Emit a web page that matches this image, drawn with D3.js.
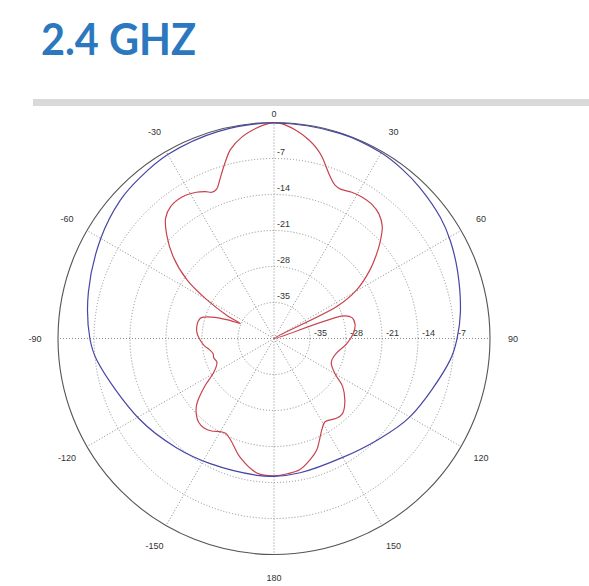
<!DOCTYPE html>
<html>
<head>
<meta charset="utf-8">
<script src="https://cdn.jsdelivr.net/npm/d3@7"></script>
<style>
  body { margin: 0; background: #fff; }
  svg { display: block; }
  .lbl { font-family: "Liberation Sans", Arial, sans-serif; font-size: 9px; fill: #333; }
</style>
</head>
<body>
<svg width="589" height="586"></svg>
<script>
// polar plot, angles in degrees clockwise from top, values in dB
var angleTicks = [0, 30, 60, 90, 120, 150, 180, -150, -120, -90, -60, -30];
var ringTicks = [-35, -28, -21, -14, -7];
var dbMin = -42, dbMax = 0;

var redAngles = [-180, -173, -164, -157, -153, -150, -146, -142, -138, -135, -131, -128, -124, -120,
  -116, -112, -108, -104, -100, -96, -91, -86, -81, -77, -74, -71, -68, -66, -64, -60, -56, -51,
  -46, -42, -38, -33, -28, -25, -23, -21, -19, -17, -15, -13, -9, -5, -2, 0,
  2, 6, 10, 13, 15, 17, 19, 21.7, 24, 28, 32, 36, 40, 44, 48, 51, 54.5, 59.6, 63, 66,
  72, 75, 80, 86, 94, 103, 110, 114, 120, 125, 133, 138, 142, 148.5, 152.5, 156, 159, 163.5, 169, 174];
var redValues = [-15.3, -15.6, -18.0, -20.5, -21.3, -21.1, -20.3, -19.9, -20.1, -20.7, -22.0, -23.6, -26.0, -28.3,
  -29.5, -30.0, -29.7, -29.8, -29.3, -28.4, -27.6, -27.0, -26.8, -26.9, -27.3, -29.2, -32.3, -34.8, -31.9, -26.9, -21.6, -16.8,
  -13.0, -10.5, -9.4, -9.2, -9.8, -10.5, -11.1, -10.9, -9.5, -7.8, -6.0, -4.3, -2.3, -1.0, -0.3, -0.1,
  -0.2, -1.3, -2.8, -4.3, -5.6, -7.2, -8.6, -9.9, -10.2, -9.8, -9.6, -9.7, -10.3, -11.7, -14.3, -16.5, -19.1, -23.4, -28.3, -45,
  -27.8, -26.3, -26.0, -26.5, -27.8, -29.5, -30.0, -29.8, -28.3, -25.7, -23.2, -22.2, -22.3, -23.0, -21.9, -20.3, -18.8, -17.4, -16.0, -15.6];

var blueAngles = [-180, -173, -153, -138, -121, -97, -90, -76, -60, -48, -40, -30, -15, 0,
  18, 30, 37, 44, 54, 61, 70, 82, 90, 97, 120, 135, 150, 169];
var blueValues = [-15.2, -15.2, -14.7, -13.5, -11.5, -7.3, -6.2, -4.8, -3.1, -1.8, -1.3, -0.7, -0.3, -0.1,
  -0.1, -0.3, -0.7, -1.2, -2.0, -2.8, -4.0, -5.4, -6.4, -7.5, -11.5, -13.9, -15.3, -15.4];

var svg = d3.select("svg");

// heading + grey rule
svg.append("text")
  .attr("x", 41).attr("y", 55)
  .attr("textLength", 155)
  .attr("lengthAdjust", "spacingAndGlyphs")
  .style("font-family", "Lato, 'Open Sans', sans-serif")
  .style("font-weight", "bold")
  .style("font-size", "44px")
  .style("fill", "#2b78be")
  .text("2.4 GHZ");

svg.append("rect")
  .attr("x", 33).attr("y", 99)
  .attr("width", 556).attr("height", 7)
  .style("fill", "#d9d9d9");

var cx = 274, cy = 338.5, R = 216;
var r = d3.scaleLinear().domain([dbMin, dbMax]).range([0, R]).clamp(true);
var rad = function(a) { return a * Math.PI / 180; };

var g = svg.append("g").attr("transform", "translate(" + cx + "," + cy + ")");

// dotted rings
g.selectAll(".ring")
  .data(ringTicks)
  .enter().append("circle")
  .attr("class", "ring")
  .attr("r", function(d) { return r(d); })
  .style("fill", "none")
  .style("stroke", "#8a8a8a")
  .style("stroke-dasharray", "1,2");

// spokes every 30 deg
g.selectAll(".spoke")
  .data(d3.range(0, 360, 30))
  .enter().append("line")
  .attr("class", "spoke")
  .attr("x1", 0).attr("y1", 0)
  .attr("x2", function(d) { return R * Math.sin(rad(d)); })
  .attr("y2", function(d) { return -R * Math.cos(rad(d)); })
  .style("stroke", "#8a8a8a")
  .style("stroke-dasharray", "1,2");

// outer circle
g.append("circle")
  .attr("r", r(dbMax))
  .style("fill", "none")
  .style("stroke", "#555")
  .style("stroke-width", 1.1);

// ring labels, up the 0 spoke and along the 90 spoke
g.selectAll(".rlv")
  .data(ringTicks)
  .enter().append("text")
  .attr("class", "lbl")
  .attr("x", 3)
  .attr("y", function(d) { return -r(d) - 4; })
  .text(function(d) { return d; });

g.selectAll(".rlh")
  .data(ringTicks)
  .enter().append("text")
  .attr("class", "lbl")
  .attr("x", function(d) { return r(d) + 4; })
  .attr("y", -2.5)
  .text(function(d) { return d; });

// angle labels
g.selectAll(".alb")
  .data(angleTicks)
  .enter().append("text")
  .attr("class", "lbl")
  .attr("text-anchor", "middle")
  .attr("dy", "0.35em")
  .attr("x", function(d) { var lr = d === 0 ? 225 : 239; return lr * Math.sin(rad(d)); })
  .attr("y", function(d) { var lr = d === 0 ? 225 : 239; return -lr * Math.cos(rad(d)); })
  .text(function(d) { return d; });

var line = d3.lineRadial()
  .angle(function(d) { return rad(d[0]); })
  .radius(function(d) { return r(d[1]); })
  .curve(d3.curveCatmullRomClosed.alpha(0.5));

var redPts = d3.zip(redAngles, redValues);
var bluePts = d3.zip(blueAngles, blueValues);

g.append("path")
  .attr("d", line(redPts))
  .style("fill", "none")
  .style("stroke", "#c8434e")
  .style("stroke-width", 1.2);

g.append("path")
  .attr("d", line(bluePts))
  .style("fill", "none")
  .style("stroke", "#4646a6")
  .style("stroke-width", 1.2);
</script>
</body>
</html>
